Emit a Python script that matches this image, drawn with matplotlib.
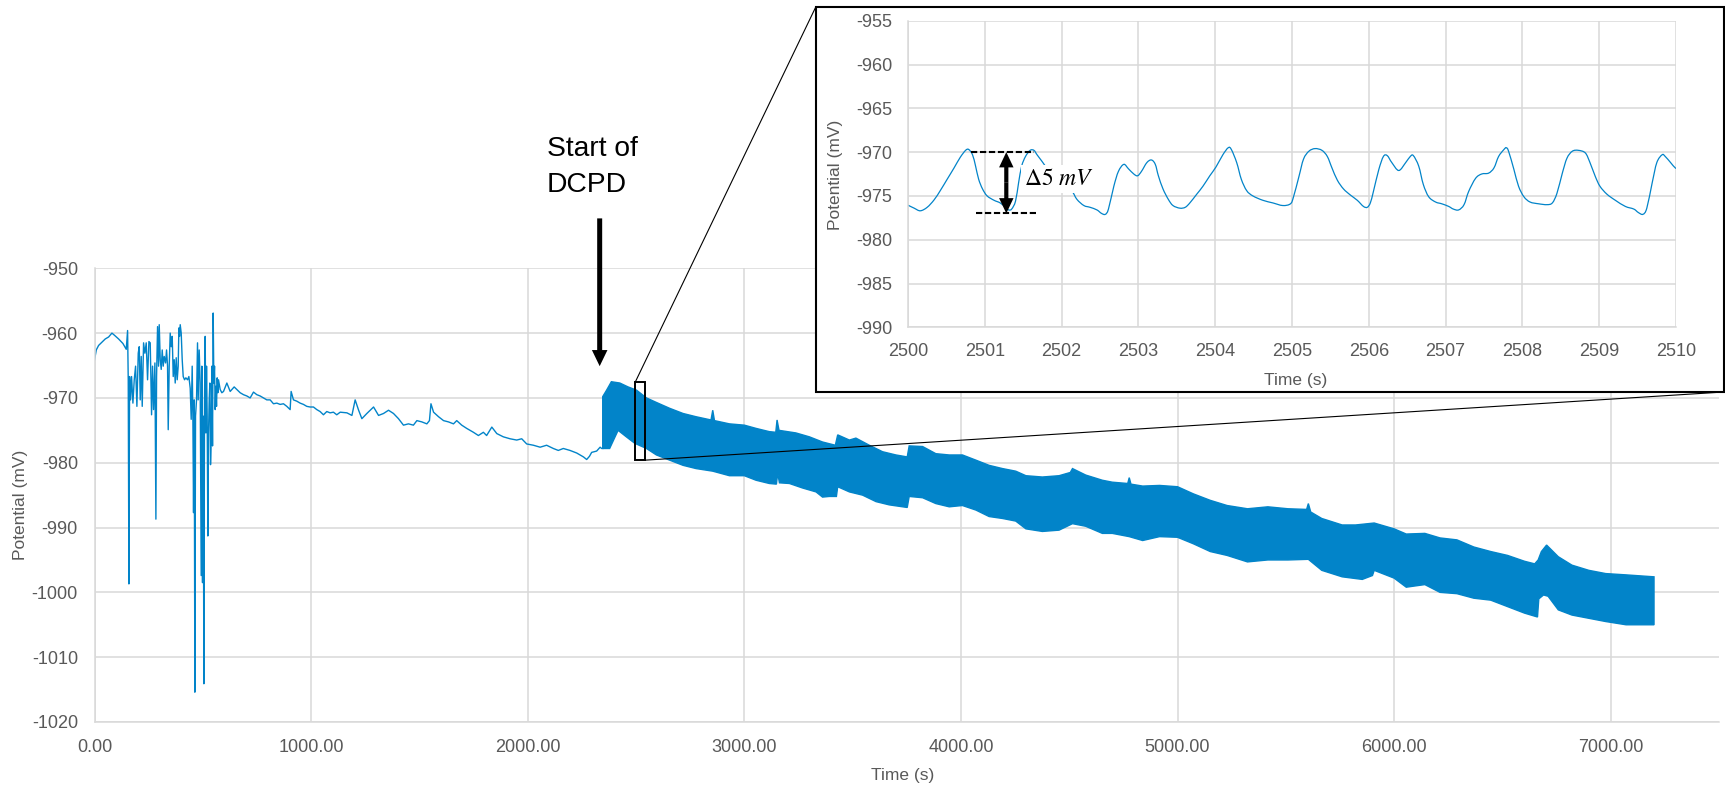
import numpy as np
import matplotlib
matplotlib.use('Agg')
import matplotlib.pyplot as plt
from matplotlib.patches import Rectangle, ConnectionPatch, PathPatch
from matplotlib.path import Path

plt.rcParams['font.family'] = ['Liberation Sans', 'DejaVu Sans']
plt.rcParams['axes.unicode_minus'] = False
plt.rcParams['mathtext.fontset'] = 'stix'

# ---------------- data ----------------
# quiet period before DCPD (time s, potential mV)
pre_t = [0, 7.7, 18.5, 33.8, 49.2, 64.6, 80.0, 90.7, 110.7, 130.7, 146.1, 152.3, 155.3, 158.4,
         161.5, 166.1, 170.7, 176.9, 183.0, 189.2, 195.3, 201.5, 206.1, 210.7, 215.3, 219.9,
         226.1, 232.2, 238.4, 244.5, 250.7, 256.8, 263.0, 267.6, 272.2, 278.4, 283.0, 286.1,
         290.7, 295.3, 298.4, 303.0, 307.6, 312.2, 316.8, 321.4, 327.6, 332.2, 336.8, 339.9,
         344.5, 349.1, 353.7, 358.4, 363.0, 367.6, 372.2, 376.8, 381.4, 386.0, 389.1, 392.2,
         395.3, 399.9, 404.5, 409.1, 415.3, 421.4, 429.1, 435.3, 441.4, 446.0, 450.6, 453.7,
         456.8, 459.9, 462.9, 466.0, 470.6, 475.2, 478.3, 482.9, 487.5, 492.2, 495.2, 498.3,
         501.4, 504.5, 507.5, 510.6, 513.7, 516.8, 519.8, 522.9, 526.0, 529.1, 532.1, 535.2,
         538.3, 541.4, 544.5, 547.5, 550.6, 553.7, 556.8, 559.8, 562.9, 566.0, 569.1, 572.1,
         579.8, 587.5, 595.2, 610.6, 626.0, 644.4, 656.7, 672.1, 687.5, 702.9, 718.2, 733.6,
         749.0, 764.4, 779.8, 795.1, 810.5, 825.9, 841.3, 856.7, 872.0, 887.4, 902.8, 907.4,
         918.2, 933.6, 948.9, 964.3, 979.7, 995.1, 1010.5, 1025.8, 1041.2, 1056.6, 1072.0,
         1087.4, 1102.7, 1118.1, 1134, 1165, 1188, 1203, 1219, 1234, 1257, 1288, 1311, 1334,
         1357, 1380, 1403, 1426, 1449, 1472, 1488, 1511, 1534, 1546, 1553, 1565, 1588, 1611,
         1634, 1657, 1672, 1695, 1718, 1749, 1772, 1795, 1810, 1834, 1857, 1887, 1918, 1949,
         1972, 1995, 2026, 2057, 2087, 2118, 2141, 2164, 2195, 2226, 2257, 2272, 2285, 2295,
         2318, 2334, 2341, 2346]
pre_v = [-964.1, -962.6, -961.9, -961.4, -960.9, -960.6, -960.0, -960.3, -960.9, -961.6, -962.5,
         -959.6, -967.2, -998.7, -966.7, -970.3, -966.7, -970.8, -967.2, -965.1, -971.3, -963.1,
         -962.1, -970.3, -963.6, -971.3, -961.5, -963.1, -961.5, -967.2, -961.3, -961.5, -972.6,
         -965.1, -971.8, -964.6, -988.7, -966.7, -959.0, -965.1, -958.7, -964.1, -965.6, -962.6,
         -965.1, -963.6, -964.6, -962.6, -965.1, -974.9, -965.1, -960.0, -962.1, -960.5, -966.7,
         -964.1, -967.7, -963.8, -967.2, -965.1, -959.2, -960.5, -958.7, -960.0, -964.1, -966.7,
         -967.2, -966.9, -967.2, -966.7, -968.5, -973.3, -965.1, -972.8, -987.7, -970.3, -1015.4,
         -972.8, -970.3, -961.5, -970.3, -962.6, -967.7, -997.4, -965.1, -998.5, -972.8, -1014.1,
         -970.3, -960.5, -975.4, -965.1, -972.8, -991.3, -975.4, -970.3, -967.7, -980.3, -976.4,
         -965.1, -977.4, -956.9, -967.7, -965.1, -971.8, -968.2, -971.3, -966.9, -969.2, -967.2,
         -968.7, -969.2, -969.0, -967.7, -969.0, -968.3, -968.7, -969.2, -969.5, -969.7, -970.0,
         -969.1, -969.5, -969.7, -970.0, -970.3, -970.3, -970.9, -970.8, -971.0, -970.9, -971.3,
         -971.8, -969.0, -970.3, -970.5, -970.8, -971.0, -971.3, -971.4, -971.4, -971.8, -972.1,
         -972.6, -972.1, -972.3, -972.2, -972.6, -972.2, -972.3, -972.7, -970.3, -971.9, -973.2,
         -972.4, -971.4, -972.7, -972.4, -971.9, -972.4, -973.2, -974.2, -974.0, -974.2, -973.5,
         -973.7, -974.0, -973.5, -970.9, -972.2, -972.9, -973.5, -973.7, -974.0, -973.5, -974.2,
         -974.7, -975.3, -975.8, -975.3, -975.8, -974.5, -975.5, -976.0, -976.3, -976.5, -976.3,
         -977.1, -977.3, -977.6, -977.3, -977.8, -978.1, -977.8, -978.1, -978.5, -979.1, -979.5,
         -979.0, -978.4, -978.2, -977.6, -977.8, -977.8]

# DCPD period: upper and lower envelope of the oscillation band
band_up_t = [2346, 2364, 2386, 2425, 2463, 2502, 2548, 2594, 2655, 2717, 2777, 2846, 2854, 2862,
             2931, 3000, 3054, 3115, 3145, 3151, 3160, 3238, 3300, 3361, 3420, 3431, 3485, 3515,
             3577, 3638, 3700, 3752, 3761, 3823, 3884, 3946, 4007, 4069, 4130, 4192, 4253, 4300,
             4376, 4453, 4505, 4515, 4576, 4653, 4699, 4770, 4777, 4785, 4839, 4917, 5000, 5073,
             5151, 5229, 5323, 5417, 5510, 5596, 5604, 5615, 5666, 5760, 5822, 5908, 6000, 6056,
             6142, 6212, 6290, 6368, 6446, 6524, 6602, 6649, 6665, 6680, 6704, 6758, 6821, 6899,
             6977, 7071, 7200]
band_up_v = [-969.8, -968.8, -967.5, -967.7, -968.3, -968.8, -970.0, -970.7, -971.6, -972.4,
             -972.9, -973.4, -971.9, -973.5, -974.0, -974.2, -974.7, -975.2, -975.3, -973.4,
             -975.0, -975.4, -976.0, -976.8, -977.3, -975.7, -976.5, -976.2, -977.3, -978.3,
             -978.8, -979.1, -977.4, -977.5, -978.6, -978.8, -978.8, -979.6, -980.4, -980.9,
             -981.3, -982.0, -982.2, -982.0, -981.5, -980.9, -981.9, -982.7, -983.0, -983.2,
             -982.3, -983.3, -983.6, -983.5, -983.7, -984.8, -985.8, -986.6, -987.1, -986.8,
             -987.1, -987.2, -986.3, -987.6, -988.6, -989.6, -989.6, -989.3, -990.2, -991.0,
             -990.9, -991.6, -991.9, -993.0, -993.7, -994.3, -995.2, -995.6, -995.0, -993.7,
             -992.7, -994.5, -995.8, -996.6, -997.1, -997.3, -997.6]
band_lo_t = [2346, 2378, 2417, 2455, 2494, 2548, 2594, 2655, 2717, 2777, 2854, 2931, 3000, 3054,
             3115, 3148, 3154, 3162, 3208, 3269, 3331, 3361, 3392, 3425, 3431, 3485, 3546, 3608,
             3669, 3752, 3761, 3823, 3884, 3946, 4007, 4069, 4130, 4192, 4253, 4300, 4376, 4453,
             4515, 4576, 4653, 4699, 4777, 4839, 4917, 5000, 5073, 5151, 5229, 5323, 5417, 5510,
             5604, 5666, 5760, 5853, 5900, 5908, 6000, 6056, 6142, 6212, 6290, 6368, 6446, 6524,
             6602, 6662, 6668, 6690, 6711, 6758, 6821, 6899, 6977, 7071, 7200]
band_lo_v = [-977.8, -977.8, -975.0, -976.0, -977.0, -977.8, -978.8, -979.6, -980.4, -980.9,
             -981.3, -982.0, -982.0, -982.7, -983.2, -983.3, -981.6, -983.1, -983.2, -983.9,
             -984.5, -985.3, -985.2, -985.2, -983.7, -984.5, -985.0, -986.0, -986.5, -986.9,
             -985.2, -985.4, -986.3, -986.8, -986.6, -987.3, -988.3, -988.6, -989.0, -990.2,
             -990.6, -990.4, -989.4, -989.8, -990.9, -990.9, -991.4, -992.0, -991.4, -991.5,
             -992.5, -993.7, -994.3, -995.3, -995.0, -995.0, -994.9, -996.6, -997.6, -998.0,
             -997.4, -996.6, -997.8, -999.2, -998.8, -1000.0, -1000.2, -1000.9, -1001.2, -1002.2,
             -1003.2, -1003.8, -1001.0, -1000.4, -1000.6, -1002.7, -1003.5, -1004.0, -1004.5,
             -1005.0, -1005.0]

# zoomed window 2500-2510 s
zoom_t = [2500.00, 2500.08, 2500.16, 2500.25, 2500.34, 2500.42, 2500.51, 2500.60, 2500.68,
          2500.75, 2500.79, 2500.84, 2500.88, 2500.92, 2500.97, 2501.03, 2501.12, 2501.20,
          2501.27, 2501.31, 2501.35, 2501.40, 2501.44, 2501.48, 2501.53, 2501.59, 2501.64,
          2501.68, 2501.74, 2501.85, 2502.00, 2502.13, 2502.20, 2502.29, 2502.37, 2502.46,
          2502.52, 2502.57, 2502.61, 2502.68, 2502.74, 2502.81, 2502.87, 2502.94, 2502.99,
          2503.04, 2503.11, 2503.17, 2503.22, 2503.26, 2503.32, 2503.39, 2503.45, 2503.54,
          2503.61, 2503.67, 2503.76, 2503.84, 2503.93, 2504.01, 2504.10, 2504.17, 2504.21,
          2504.28, 2504.34, 2504.41, 2504.49, 2504.62, 2504.75, 2504.88, 2504.98, 2505.02,
          2505.09, 2505.15, 2505.22, 2505.30, 2505.39, 2505.46, 2505.52, 2505.59, 2505.67,
          2505.76, 2505.85, 2505.93, 2505.98, 2506.02, 2506.06, 2506.13, 2506.19, 2506.24,
          2506.30, 2506.39, 2506.48, 2506.54, 2506.58, 2506.65, 2506.71, 2506.78, 2506.87,
          2506.95, 2507.04, 2507.10, 2507.17, 2507.24, 2507.30, 2507.39, 2507.47, 2507.56,
          2507.63, 2507.69, 2507.76, 2507.79, 2507.82, 2507.89, 2507.95, 2508.02, 2508.10,
          2508.21, 2508.32, 2508.39, 2508.45, 2508.52, 2508.58, 2508.65, 2508.73, 2508.82,
          2508.88, 2508.95, 2509.01, 2509.10, 2509.21, 2509.34, 2509.45, 2509.51, 2509.57,
          2509.62, 2509.69, 2509.75, 2509.82, 2509.86, 2509.93, 2509.99, 2510.03]
zoom_v = [-976.06, -976.4, -976.7, -976.3, -975.45, -974.4, -973.1, -971.8, -970.6, -969.8,
          -969.7, -970.3, -971.6, -973.1, -974.2, -975.0, -975.5, -975.8, -976.3, -976.6,
          -976.5, -975.6, -973.5, -971.6, -970.5, -969.8, -969.8, -970.3, -971.0, -972.3,
          -973.5, -974.4, -975.4, -976.1, -976.3, -976.6, -977.0, -977.1, -976.5, -973.9,
          -972.2, -971.4, -971.9, -972.5, -972.7, -972.2, -971.2, -970.9, -971.4, -972.7,
          -974.2, -975.4, -976.1, -976.4, -976.3, -975.8, -974.8, -973.9, -972.7, -971.7,
          -970.3, -969.5, -969.7, -971.2, -973.1, -974.4, -975.0, -975.5, -975.8, -976.1,
          -975.9, -975.1, -972.8, -970.8, -969.9, -969.6, -969.8, -970.5, -971.8, -973.2,
          -974.2, -974.9, -975.5, -976.2, -976.3, -975.8, -974.5, -972.0, -970.5, -970.4,
          -971.2, -972.1, -971.2, -970.5, -970.4, -971.6, -973.7, -975.1, -975.7, -975.9,
          -976.2, -976.5, -976.6, -976.0, -974.5, -973.0, -972.5, -972.4, -971.8, -970.5,
          -969.7, -969.5, -969.9, -972.0, -973.9, -975.1, -975.7, -975.9, -976.0, -975.8,
          -974.7, -972.4, -970.7, -969.9, -969.8, -970.1, -971.2, -972.8, -973.9, -974.8,
          -975.5, -976.2, -976.5, -976.9, -977.1, -976.4, -973.5, -971.2, -970.3, -970.5,
          -971.2, -971.8, -971.9]

x_ticks = [0, 1000, 2000, 3000, 4000, 5000, 6000, 7000]
y_ticks = [-1020, -1010, -1000, -990, -980, -970, -960, -950]
zoom_x_ticks = [2500, 2501, 2502, 2503, 2504, 2505, 2506, 2507, 2508, 2509, 2510]
zoom_y_ticks = [-990, -985, -980, -975, -970, -965, -960, -955]

dcpd_start = 2332          # arrow position (s)
zoom_box = (2497, 2543, -979.6, -967.5)   # t0, t1, v0, v1 of small box
delta_top, delta_bot = -970.0, -977.0

# ---------------- drawing ----------------
BLUE = '#0284c9'
GRID = '#d9d9d9'
TXT = '#595959'
W, H = 1725, 786
fig = plt.figure(figsize=(W / 100, H / 100), dpi=100)


def fx(px):
    return px / W


def fy(py):
    return 1 - py / H


def smooth_path(xs, ys):
    """Excel-like smoothed line: cubic Bezier segments through the given points."""
    p = np.column_stack([xs, ys]).astype(float)
    verts = [p[0]]
    codes = [Path.MOVETO]
    n = len(p)
    for i in range(n - 1):
        p0 = p[i - 1] if i > 0 else p[i]
        p1, p2 = p[i], p[i + 1]
        p3 = p[i + 2] if i + 2 < n else p[i + 1]
        c1 = p1 + (p2 - p0) / 6.0
        c2 = p2 - (p3 - p1) / 6.0
        verts += [c1, c2, p2]
        codes += [Path.CURVE4] * 3
    return Path(np.array(verts), codes)


ax = fig.add_axes([fx(94.6), fy(722), fx(1719) - fx(94.6), fy(268.3) - fy(722)])
ax.plot(pre_t, pre_v, color=BLUE, lw=1.0, zorder=2)
ax.fill(np.concatenate([band_up_t, band_lo_t[::-1]]),
        np.concatenate([band_up_v, band_lo_v[::-1]]),
        color=BLUE, lw=1.0, ec=BLUE, zorder=2)
ax.set_xlim(0, 7500)
ax.set_ylim(-1020, -950)
ax.set_xticks(x_ticks)
ax.set_xticklabels([f'{v:.2f}' for v in x_ticks])
ax.set_yticks(y_ticks)
ax.set_yticklabels([str(v) for v in y_ticks])
ax.grid(True, color=GRID, lw=1.1)
ax.set_axisbelow(True)
for s in ['top', 'right']:
    ax.spines[s].set_visible(False)
for s in ['left', 'bottom']:
    ax.spines[s].set_color(GRID)
    ax.spines[s].set_linewidth(1.1)
ax.tick_params(length=0, labelsize=13, labelcolor=TXT, pad=12)
ax.set_xlabel('Time (s)', fontsize=12.5, color=TXT)
ax.set_ylabel('Potential (mV)', fontsize=12.5, color=TXT)
ax.xaxis.label.set_va('center')
ax.yaxis.label.set_va('center')
ax.xaxis.set_label_coords(0.4975, -0.118)
ax.yaxis.set_label_coords(-0.0456, 0.478)

# small zoom box
t0, t1, v0, v1 = zoom_box
ax.add_patch(Rectangle((t0, v0), t1 - t0, v1 - v0, fill=False, ec='black', lw=1.4, zorder=4))

# start-of-DCPD arrow and text
ax.annotate('', xy=(dcpd_start, -965.1), xytext=(dcpd_start, -942.3), annotation_clip=False,
            arrowprops=dict(arrowstyle='simple,head_length=0.58,head_width=0.56,tail_width=0.18',
                            fc='black', ec='none', lw=0, shrinkA=0, shrinkB=0, mutation_scale=20))
fig.text(fx(547), fy(136), 'Start of\nDCPD', fontsize=20.3, va='top', ha='left',
         linespacing=1.5, color='black')

# inset frame
frame = Rectangle((fx(816), fy(392)), fx(1723.5) - fx(816), fy(6.5) - fy(392),
                  transform=fig.transFigure, fc='white', ec='black', lw=1.5, zorder=1.5)
fig.add_artist(frame)

# connector lines
con1 = ConnectionPatch(xyA=(t0, v1), coordsA='data', axesA=ax,
                       xyB=(fx(816), fy(6.5)), coordsB='figure fraction',
                       color='black', lw=0.8, zorder=1.4)
con2 = ConnectionPatch(xyA=(t1, v0), coordsA='data', axesA=ax,
                       xyB=(fx(1723.5), fy(392)), coordsB='figure fraction',
                       color='black', lw=0.8, zorder=1.4)
fig.add_artist(con1)
fig.add_artist(con2)

# inset axes
ax2 = fig.add_axes([fx(908), fy(327.3), fx(1676) - fx(908), fy(20.7) - fy(327.3)], zorder=3)
ax2.add_patch(PathPatch(smooth_path(zoom_t, zoom_v), fill=False, ec=BLUE, lw=0.9, zorder=2))
ax2.set_xlim(2500, 2510)
ax2.set_ylim(-990, -955)
ax2.set_xticks(zoom_x_ticks)
ax2.set_xticklabels([str(v) for v in zoom_x_ticks])
ax2.set_yticks(zoom_y_ticks)
ax2.set_yticklabels([str(v) for v in zoom_y_ticks])
ax2.grid(True, color=GRID, lw=1.1)
ax2.set_axisbelow(True)
for s in ['top', 'right']:
    ax2.spines[s].set_visible(False)
for s in ['left', 'bottom']:
    ax2.spines[s].set_color(GRID)
    ax2.spines[s].set_linewidth(1.1)
ax2.tick_params(length=0, labelsize=13, labelcolor=TXT, pad=11.5)
ax2.set_xlabel('Time (s)', fontsize=12.5, color=TXT)
ax2.set_ylabel('Potential (mV)', fontsize=12.5, color=TXT)
ax2.xaxis.label.set_va('center')
ax2.yaxis.label.set_va('center')
ax2.xaxis.set_label_coords(0.505, -0.172)
ax2.yaxis.set_label_coords(-0.094, 0.497)

# delta annotation
ax2.plot([2500.82, 2501.64], [delta_top, delta_top], color='black', lw=1.5, dashes=(3, 1.3), zorder=4)
ax2.plot([2500.89, 2501.68], [delta_bot, delta_bot], color='black', lw=1.5, dashes=(3, 1.3), zorder=4)
mid = (delta_top + delta_bot) / 2
for end in (delta_top, delta_bot):
    ax2.annotate('', xy=(2501.28, end), xytext=(2501.28, mid),
                 arrowprops=dict(arrowstyle='simple,head_length=0.55,head_width=0.52,tail_width=0.15',
                                 fc='black', ec='none', lw=0, shrinkA=0, shrinkB=0,
                                 mutation_scale=20), zorder=5)
ax2.text(2501.96, -973.07, r'$\Delta5\ mV$', fontsize=17, ha='center', va='center', zorder=6,
         bbox=dict(fc='white', ec='none', pad=2))

fig.savefig('out.png', dpi=100)
